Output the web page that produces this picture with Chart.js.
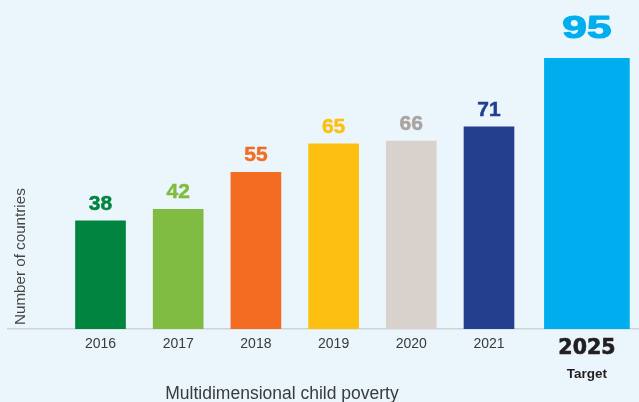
<!DOCTYPE html>
<html><head><meta charset="utf-8">
<script src="https://cdn.jsdelivr.net/npm/chart.js@4.4.1/dist/chart.umd.min.js"></script>
<style>html,body{margin:0;padding:0;background:#eaf6fc;overflow:hidden}canvas{display:block}</style>
</head><body>
<canvas id="c" width="639" height="402"></canvas>
<script>
const years = ['2016','2017','2018','2019','2020','2021'];
const counts = [38, 42, 55, 65, 66, 71];
const targetYear = '2025';
const targetNote = 'Target';
const targetCount = 95;
const barColors = ['#00843f','#80bc41','#f36c21','#fdc010','#d9d1cb','#233f8e'];
const labelColors = ['#00843f','#80bc41','#f36c21','#fdc010','#aaa4a0','#233f8e'];
const targetColor = '#00aeef';
const yTitle = 'Number of countries';
const xTitle = 'Multidimensional child poverty';

const TARGET_POS = 6.26;
const yearPos = years.map((_, i) => i);
const tickPos = [...yearPos, TARGET_POS];
const tickLabels = [...years, targetYear];

const labelsPlugin = {
  id: 'labels',
  afterDatasetsDraw(chart) {
    const ctx = chart.ctx;
    ctx.save();
    ctx.textAlign = 'center';
    ctx.textBaseline = 'alphabetic';
    const m0 = chart.getDatasetMeta(0);
    m0.data.forEach((el, i) => {
      ctx.fillStyle = labelColors[i];
      ctx.strokeStyle = labelColors[i];
      ctx.lineWidth = 0.5;
      ctx.font = 'bold 21px "Liberation Sans", Arial, sans-serif';
      ctx.fillText(String(counts[i]), el.x, el.y - 11);
      ctx.strokeText(String(counts[i]), el.x, el.y - 11);
    });
    const m1 = chart.getDatasetMeta(1);
    m1.data.forEach((el) => {
      ctx.fillStyle = targetColor;
      ctx.strokeStyle = targetColor;
      ctx.lineWidth = 1.2;
      ctx.lineJoin = 'round';
      ctx.font = 'bold 32px "Liberation Sans", Arial, sans-serif';
      ctx.save();
      ctx.translate(el.x, el.y - 20);
      ctx.scale(1.38, 1);
      ctx.fillText(String(targetCount), 0, 0);
      ctx.strokeText(String(targetCount), 0, 0);
      ctx.restore();
      ctx.fillStyle = '#231f20';
      ctx.font = 'bold 13.5px "Liberation Sans", Arial, sans-serif';
      ctx.fillText(targetNote, el.x, 378);
    });
    // axis titles
    ctx.fillStyle = '#3b3b3b';
    ctx.font = '17.5px "Liberation Sans", Arial, sans-serif';
    ctx.fillText(xTitle, 282, 398.5);
    ctx.save();
    ctx.translate(25, 325);
    ctx.rotate(-Math.PI / 2);
    ctx.textAlign = 'left';
    ctx.fillStyle = '#444444';
    ctx.font = '15.2px "Liberation Sans", Arial, sans-serif';
    ctx.fillText(yTitle, 0, 0);
    ctx.restore();
    ctx.restore();
  }
};

new Chart(document.getElementById('c'), {
  type: 'bar',
  data: {
    datasets: [
      {
        data: years.map((y, i) => ({ x: yearPos[i], y: counts[i] })),
        backgroundColor: barColors,
        barThickness: 50,
        grouped: false
      },
      {
        data: [{ x: TARGET_POS, y: targetCount }],
        backgroundColor: targetColor,
        barThickness: 85,
        grouped: false
      }
    ]
  },
  options: {
    responsive: false,
    animation: false,
    devicePixelRatio: 1,
    layout: { padding: { left: 8, right: 0, top: 0, bottom: 0 } },
    plugins: { legend: { display: false }, tooltip: { enabled: false } },
    scales: {
      x: {
        type: 'linear',
        min: -1.1905,
        max: 6.9305,
        offset: false,
        grid: { display: false, drawTicks: false },
        border: { display: true, color: '#cdd3d6', width: 1.5 },
        afterBuildTicks: (axis) => { axis.ticks = tickPos.map(v => ({ value: v })); },
        afterFit: (axis) => { axis.height = 73; },
        ticks: {
          padding: 7,
          autoSkip: false,
          maxRotation: 0,
          minRotation: 0,
          callback: (v, i) => tickLabels[i],
          color: (c) => c.index === 6 ? '#231f20' : '#3a3a3a',
          textStrokeColor: (c) => c.index === 6 ? '#231f20' : 'rgba(0,0,0,0)',
          textStrokeWidth: (c) => c.index === 6 ? 0.7 : 0,
          font: (c) => c.index === 6
            ? { family: '"DejaVu Sans", sans-serif', size: 20.5, weight: 'bold' }
            : { family: '"Liberation Sans Narrow", "Liberation Sans", Arial, sans-serif', size: 14 }
        }
      },
      y: { display: false, min: 0, max: 115.5 }
    }
  },
  plugins: [labelsPlugin]
});
</script>
</body></html>
